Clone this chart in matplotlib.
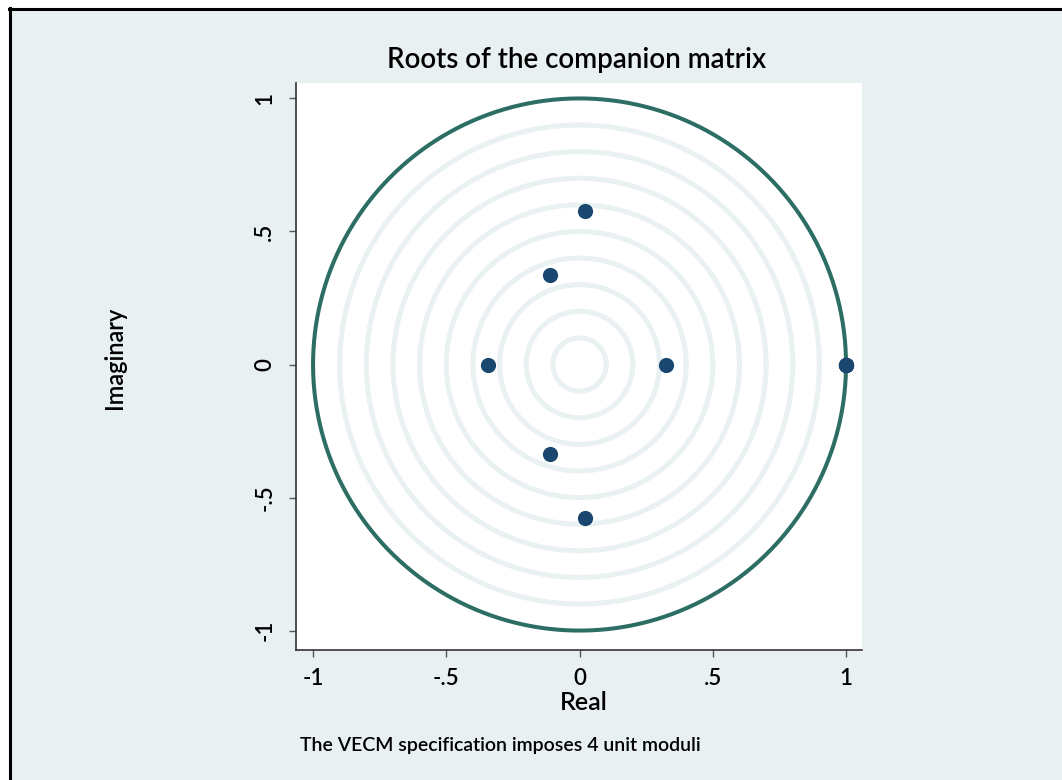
import numpy as np
import matplotlib.pyplot as plt
from matplotlib.patches import Rectangle

# eigenvalues of the companion matrix
root_real = [1.0, 1.0, 1.0, 1.0, 0.325, -0.345, -0.11, -0.11, 0.022, 0.022]
root_imag = [0.0, 0.0, 0.0, 0.0, 0.0, 0.0, 0.335, -0.335, 0.578, -0.578]

ring_radii = [0.1, 0.2, 0.3, 0.4, 0.5, 0.6, 0.7, 0.8, 0.9]
tick_vals = [-1, -0.5, 0, 0.5, 1]
tick_labels = ["-1", "-.5", "0", ".5", "1"]

bg = "#e8f0f2"
W, H = 1062, 780
plt.rcParams['font.family'] = ['Lato', 'DejaVu Sans']
plt.rcParams['font.weight'] = 'semibold'

fig = plt.figure(figsize=(W / 100, H / 100), dpi=100)
fig.patch.set_facecolor("white")
# light background panel with black frame on the top and left (screenshot edge)
fig.patches.append(Rectangle((10 / W, 0), 1, 1 - 9 / H, transform=fig.transFigure,
                             facecolor=bg, edgecolor="none", zorder=-10))
fig.add_artist(plt.Line2D([9.5 / W, 9.5 / W], [0, 1 - 8 / H], transform=fig.transFigure,
                          color="black", lw=2.2, zorder=-5))
fig.add_artist(plt.Line2D([9 / W, 1], [1 - 8.5 / H, 1 - 8.5 / H], transform=fig.transFigure,
                          color="black", lw=2.2, zorder=-5))

ax = fig.add_axes([296 / W, 1 - 650 / H, (862 - 296) / W, (650 - 83) / H])
ax.set_zorder(1)
ax.set_facecolor("white")

t = np.linspace(0, 2 * np.pi, 400)
for r in ring_radii:
    ax.plot(r * np.cos(t), r * np.sin(t), color="#e9f1f2", lw=3.6, zorder=1)
ax.plot(np.cos(t), np.sin(t), color="#2c6e64", lw=2.9, zorder=2)

ax.scatter(root_real, root_imag, s=120, marker="o", color="#1a476f", zorder=3, linewidths=0)

ax.set_xlim(-1.064, 1.060)
ax.set_ylim(-1.073, 1.058)

ax.set_xticks(tick_vals)
ax.set_xticklabels(tick_labels)
ax.set_yticks(tick_vals)
ax.set_yticklabels(tick_labels, rotation=90, va="center")
ax.tick_params(axis="both", direction="out", length=5, width=1, color="#555555",
               labelsize=16, pad=8)
ax.tick_params(axis="y", pad=10)
for side in ["top", "right"]:
    ax.spines[side].set_visible(False)
for side in ["left", "bottom"]:
    ax.spines[side].set_color("#333333")
    ax.spines[side].set_linewidth(1.2)

fig.text(577 / W, 1 - 60 / H, "Roots of the companion matrix", ha="center", va="center",
         fontsize=20)
fig.text(584 / W, 1 - 702 / H, "Real", ha="center", va="center", fontsize=18)
fig.text(115 / W, 1 - 358 / H, "Imaginary", ha="center", va="center", fontsize=17,
         rotation=90)
fig.text(300 / W, 1 - 745 / H, "The VECM specification imposes 4 unit moduli",
         ha="left", va="center", fontsize=14)

fig.savefig("out.png", dpi=100, facecolor=fig.get_facecolor())
